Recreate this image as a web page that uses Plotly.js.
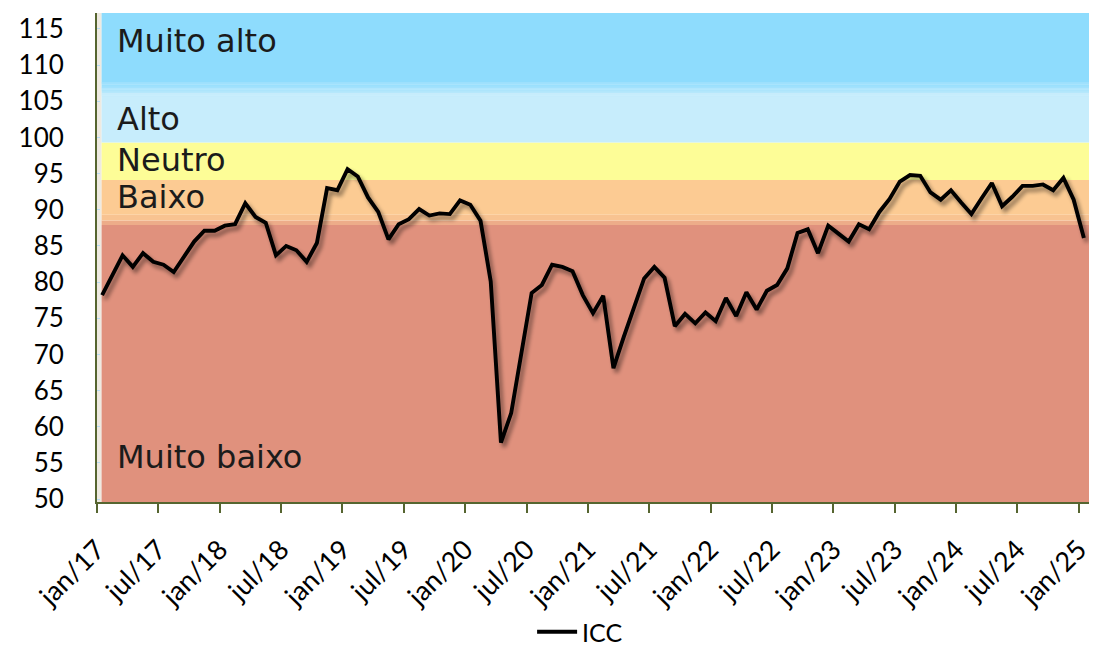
<!DOCTYPE html>
<html>
<head>
<meta charset="utf-8">
<script src="https://cdn.plot.ly/plotly-3.0.1.min.js"></script>
<style>
  html, body { margin: 0; padding: 0; background: #ffffff; }
  #chart { width: 1093px; height: 653px; }
</style>
</head>
<body>
<div id="chart"></div>
<script>
// Índice de Confiança do Consumidor, mensal, jan/2017 a jan/2025
const monthNames = ['jan','fev','mar','abr','mai','jun','jul','ago','set','out','nov','dez'];
const startYear = 2017;

const icc = [
  78.2, 81.0, 83.7, 82.1, 84.0, 82.8, 82.4, 81.4, 83.5, 85.6,
  87.1, 87.1, 87.8, 88.0, 90.9, 89.0, 88.2, 83.7, 85.0, 84.4,
  82.8, 85.4, 93.0, 92.7, 95.6, 94.6, 91.7, 89.7, 85.9, 88.0,
  88.7, 90.1, 89.2, 89.5, 89.4, 91.3, 90.7, 88.5, 80.1, 57.8,
  61.9, 70.6, 78.5, 79.6, 82.4, 82.1, 81.5, 78.2, 75.7, 78.1,
  68.1, 72.4, 76.6, 80.5, 82.1, 80.6, 73.9, 75.6, 74.3, 75.8,
  74.6, 77.8, 75.3, 78.6, 76.2, 78.8, 79.6, 81.9, 86.8, 87.3,
  84.0, 87.8, 86.7, 85.6, 88.0, 87.3, 89.7, 91.5, 93.9, 94.8,
  94.7, 92.4, 91.4, 92.7, 91.0, 89.4, 91.6, 93.7, 90.5, 91.8,
  93.3, 93.3, 93.5, 92.7, 94.4, 91.4, 86.1
];

const tickLabels = ['jan/17','jul/17','jan/18','jul/18','jan/19','jul/19','jan/20','jul/20',
  'jan/21','jul/21','jan/22','jul/22','jan/23','jul/23','jan/24','jul/24','jan/25'];

const yTicks = [50, 55, 60, 65, 70, 75, 80, 85, 90, 95, 100, 105, 110, 115];

// Faixas de classificação do índice (limite inferior, limite superior, nome)
const bandNames  = ['Muito baixo', 'Baixo', 'Neutro', 'Alto', 'Muito alto'];
const bandLimits = [[49.6, 87.9], [87.9, 94.1], [94.1, 99.3], [99.3, 106.8], [106.8, 117.2]];
const bandLabelY = [55.8, 91.7, 96.9, 102.6, 113.3];

const xIdx = icc.map((_, i) => i);
const monthLabels = icc.map((_, i) => monthNames[i % 12] + '/' + String(startYear + Math.floor(i / 12)).slice(2));
const tickVals = tickLabels.map((_, k) => k * 6 - 0.5);

const xMin = -0.5, xMax = icc.length - 0.5;
const yMin = bandLimits[0][0], yMax = bandLimits[4][1];
const bandX0 = -0.05;

const shapes = [];
function rect(x0, x1, y0, y1, color) {
  shapes.push({type: 'rect', xref: 'x', yref: 'y', x0, x1, y0, y1,
    fillcolor: color, line: {width: 0}, layer: 'below'});
}
// faixa clara junto ao eixo vertical
rect(xMin, bandX0, yMin, yMax, '#EEEAE1');
// Muito baixo
rect(bandX0, xMax, yMin, 87.9, '#E0917D');
// transição Muito baixo / Baixo
rect(bandX0, xMax, 87.9, 88.5, '#EDAC89');
rect(bandX0, xMax, 88.5, 89.3, '#F8C391');
// Baixo
rect(bandX0, xMax, 89.3, 94.1, '#FCCB93');
// Neutro
rect(bandX0, xMax, 94.1, 99.3, '#FDFD97');
// Alto
rect(bandX0, xMax, 99.3, 105.6, '#C7EDFC');
// degradê Alto -> Muito alto
(function () {
  const c0 = [199, 237, 252], c1 = [142, 220, 253];
  const lo = 105.6, hi = 107.6, n = 12;
  for (let k = 0; k < n; k++) {
    const t = (k + 0.5) / n;
    const c = c0.map((v, j) => Math.round(v + (c1[j] - v) * t));
    rect(bandX0, xMax, lo + (hi - lo) * k / n, lo + (hi - lo) * (k + 1) / n + 0.02, 'rgb(' + c.join(',') + ')');
  }
})();
// Muito alto
rect(bandX0, xMax, 107.6, yMax, '#8EDCFD');

const annotations = bandNames.map((name, k) => ({
  text: name, xref: 'x', yref: 'y', x: 1.25, y: bandLabelY[k],
  xanchor: 'left', yanchor: 'middle', showarrow: false,
  font: {family: 'DejaVu Sans', size: 32, color: '#1b1b1b'}
}));

const trace = {
  x: xIdx, y: icc, text: monthLabels, name: 'ICC',
  type: 'scatter', mode: 'lines',
  line: {color: '#000000', width: 3.9},
  hovertemplate: '%{text}: %{y:.1f}<extra></extra>'
};

const layout = {
  width: 1093, height: 653,
  margin: {l: 97, r: 4, t: 13, b: 151, autoexpand: false},
  paper_bgcolor: '#ffffff', plot_bgcolor: '#ffffff',
  showlegend: true,
  legend: {orientation: 'h', x: 0.487, xanchor: 'center', y: -0.266, yanchor: 'middle',
           itemwidth: 40,
           font: {family: 'Lato', size: 25, color: '#000'}, bgcolor: 'rgba(0,0,0,0)'},
  xaxis: {
    range: [xMin, xMax], tickmode: 'array', tickvals: tickVals, ticktext: tickLabels,
    tickangle: -45, ticks: 'outside', ticklen: 9, tickwidth: 2, tickcolor: '#566530',
    ticklabelstandoff: 10, automargin: false,
    showline: true, linecolor: '#566530', linewidth: 2, showgrid: false, zeroline: false,
    tickfont: {family: 'Lato', size: 27, color: '#000'}
  },
  yaxis: {
    range: [yMin, yMax], tickmode: 'array', tickvals: yTicks,
    ticks: 'inside', ticklen: 3, tickwidth: 1, tickcolor: '#B9DDF3',
    ticklabelstandoff: 26, automargin: false,
    showline: true, linecolor: '#566530', linewidth: 2, showgrid: false, zeroline: false,
    tickfont: {family: 'Lato', size: 26, color: '#000'}
  },
  shapes, annotations,
  font: {family: 'Lato'}
};

Plotly.newPlot('chart', [trace], layout, {displayModeBar: false, staticPlot: true}).then(gd => {
  // sombra projetada sob a linha
  const svg = gd.querySelector('svg.main-svg');
  const ns = 'http://www.w3.org/2000/svg';
  let defs = svg.querySelector('defs');
  if (!defs) { defs = document.createElementNS(ns, 'defs'); svg.insertBefore(defs, svg.firstChild); }
  const f = document.createElementNS(ns, 'filter');
  f.setAttribute('id', 'lineShadow');
  f.setAttribute('x', '-5%'); f.setAttribute('y', '-20%');
  f.setAttribute('width', '110%'); f.setAttribute('height', '140%');
  f.innerHTML =
    '<feGaussianBlur in="SourceAlpha" stdDeviation="2"/>' +
    '<feOffset dx="3" dy="4" result="off"/>' +
    '<feComponentTransfer><feFuncA type="linear" slope="0.45"/></feComponentTransfer>' +
    '<feMerge><feMergeNode/><feMergeNode in="SourceGraphic"/></feMerge>';
  defs.appendChild(f);
  gd.querySelectorAll('.scatterlayer .trace path.js-line').forEach(p => p.setAttribute('filter', 'url(#lineShadow)'));
});
</script>
</body>
</html>
